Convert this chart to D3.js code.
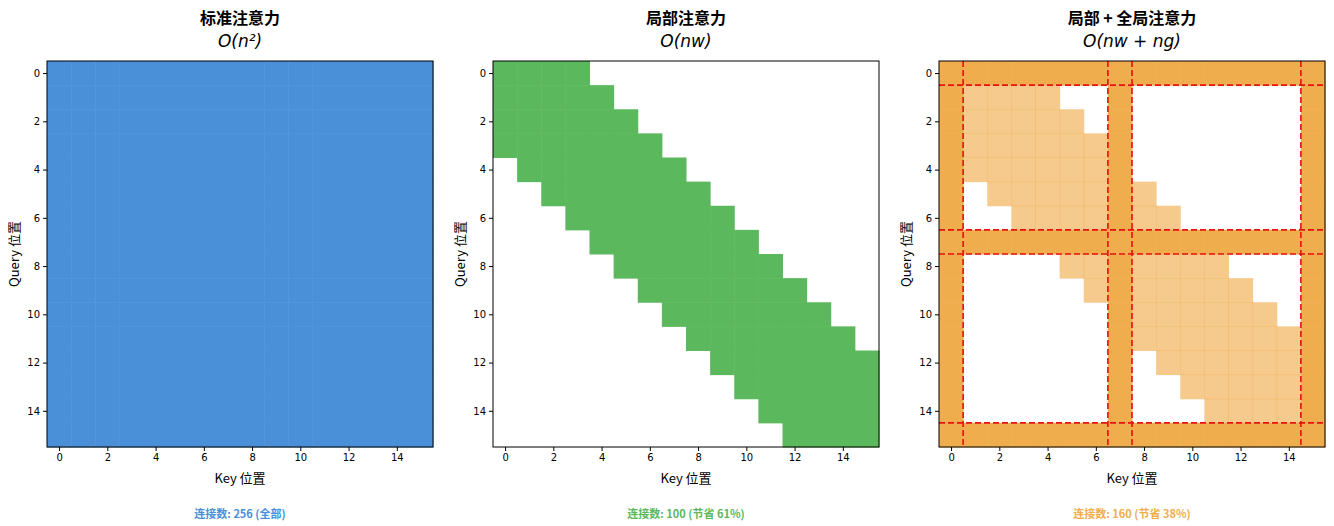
<!DOCTYPE html>
<html><head><meta charset="utf-8">
<script src="https://cdn.jsdelivr.net/npm/d3@7"></script>
<style>body{margin:0;background:#fff;font-family:"Noto Sans CJK SC","DejaVu Sans",sans-serif}</style>
</head><body><svg id="c" width="1334" height="526"></svg>
<script>
// 数据
const N = 16;
const windowHalf = 3;
const globalTokens = [0, 7, 15];
const ticks = [0, 2, 4, 6, 8, 10, 12, 14];
const titles = ['标准注意力', '局部注意力', '局部 + 全局注意力'];
const complexity = ['O(n²)', 'O(nw)', 'O(nw + ng)'];
const footers = ['连接数: 256 (全部)', '连接数: 100 (节省 61%)', '连接数: 160 (节省 38%)'];
const colors = ['#4a90d9', '#5cb85c', '#f0ad4e'];
const panelX = [47, 493, 939];

const svg = d3.select('#c');
const size = 386, plotTop = 61;

function cellType(p, i, j) {     // 0 空, 1 局部, 2 全局
  if (p === 0) return 1;
  const local = Math.abs(i - j) <= windowHalf;
  if (p === 1) return local ? 1 : 0;
  if (globalTokens.includes(i) || globalTokens.includes(j)) return 2;
  return local ? 1 : 0;
}

panelX.forEach((px, p) => {
  const x = d3.scaleLinear().domain([-0.5, N - 0.5]).range([px, px + size]);
  const y = d3.scaleLinear().domain([-0.5, N - 0.5]).range([plotTop, plotTop + size]);
  const g = svg.append('g');
  const cells = [];
  for (let i = 0; i < N; i++) for (let j = 0; j < N; j++) cells.push({i, j, t: cellType(p, i, j)});
  g.selectAll('rect.cell').data(cells.filter(d => d.t > 0)).enter().append('rect')
    .attr('x', d => x(d.j - 0.5)).attr('y', d => y(d.i - 0.5))
    .attr('width', x(1) - x(0) + 0.5).attr('height', y(1) - y(0) + 0.5)
    .attr('fill', colors[p])
    .attr('fill-opacity', d => (p === 2 && d.t === 1) ? 0.65 : 1);

  if (p === 2) {   // 全局 token 边界虚线
    globalTokens.forEach(t => {
      [t - 0.5, t + 0.5].filter(v => v > -0.5 && v < N - 0.5).forEach(v => {
        g.append('line').attr('x1', x(v)).attr('x2', x(v)).attr('y1', plotTop).attr('y2', plotTop + size)
          .attr('stroke', '#e81010').attr('stroke-width', 1.6).attr('stroke-dasharray', '6 3');
        g.append('line').attr('y1', y(v)).attr('y2', y(v)).attr('x1', px).attr('x2', px + size)
          .attr('stroke', '#e81010').attr('stroke-width', 1.6).attr('stroke-dasharray', '6 3');
      });
    });
  }
  g.append('rect').attr('x', px).attr('y', plotTop).attr('width', size).attr('height', size)
    .attr('fill', 'none').attr('stroke', '#000').attr('stroke-width', 1);

  const ax = g.append('g').attr('transform', `translate(0,${plotTop + size})`)
    .call(d3.axisBottom(x).tickValues(ticks).tickSize(4).tickSizeOuter(0));
  const ay = g.append('g').attr('transform', `translate(${px},0)`)
    .call(d3.axisLeft(y).tickValues(ticks).tickSize(4).tickSizeOuter(0));
  [ax, ay].forEach(a => { a.select('.domain').remove(); a.selectAll('text').style('font-size', '10px').style('font-family', 'DejaVu Sans'); });

  g.append('text').attr('x', px + size / 2).attr('y', 483).attr('text-anchor', 'middle')
    .style('font-size', '13px').text('Key 位置');
  g.append('text').attr('transform', `translate(${px - 28},${plotTop + size / 2}) rotate(-90)`)
    .attr('text-anchor', 'middle').style('font-size', '13px').text('Query 位置');
  g.append('text').attr('x', px + size / 2).attr('y', 24).attr('text-anchor', 'middle')
    .style('font-size', '16px').style('font-weight', 'bold').text(titles[p]);
  g.append('text').attr('x', px + size / 2).attr('y', 47).attr('text-anchor', 'middle')
    .style('font-size', '17px').style('font-style', 'italic').style('font-family', 'DejaVu Sans').text(complexity[p]);
  g.append('text').attr('x', px + size / 2).attr('y', 518).attr('text-anchor', 'middle')
    .style('font-size', '11px').style('font-weight', 'bold').attr('fill', colors[p]).text(footers[p]);
});
</script></body></html>
